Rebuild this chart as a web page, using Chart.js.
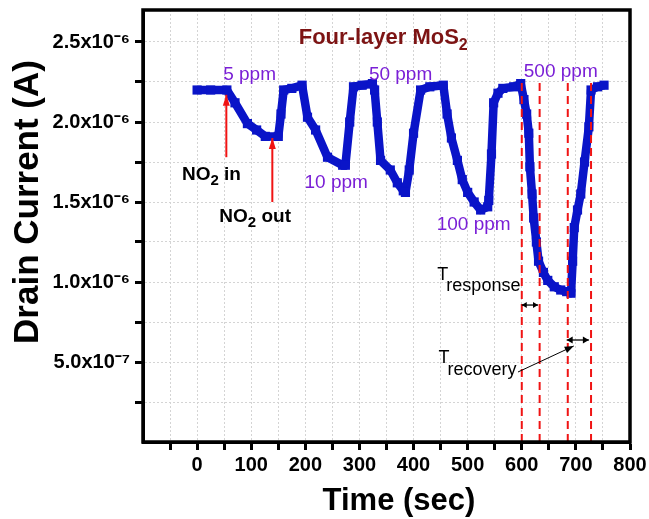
<!DOCTYPE html>
<html lang="en">
<head>
  <meta charset="UTF-8">
  <title>Four-layer MoS2 - NO2 response</title>
  <script src="https://cdn.jsdelivr.net/npm/chart.js"></script>
  <style>
    html, body { margin: 0; padding: 0; background: #fff; }
  </style>
</head>
<body>
  <canvas id="chartMoS2" width="649" height="519"></canvas>

  <script>
    // drain current (time in s, current in µA)
    const timeSec = [0, 25, 55, 70, 93, 110, 126, 150, 155, 160, 175, 194, 204, 219, 241, 269, 274, 282, 289, 305,
      324, 328, 333, 339, 357, 370, 381, 385, 392, 400, 413, 430, 455, 462, 470, 481, 490, 500, 512, 524,
      537, 539, 544, 548, 556, 565, 585, 598, 604, 609, 613, 615, 619, 622, 627, 631, 640, 648, 660, 672,
      683, 691, 694, 697, 703, 709, 716, 724, 728, 740, 752];
    const currentMicroA = [2.20, 2.20, 2.20, 2.12, 1.99, 1.95, 1.91, 1.91, 2.05, 2.20, 2.21, 2.23, 2.03, 1.95, 1.78, 1.73, 1.73, 2.00, 2.22, 2.23,
      2.24, 2.20, 2.00, 1.76, 1.70, 1.62, 1.57, 1.56, 1.70, 1.93, 2.20, 2.22, 2.23, 2.05, 1.90, 1.76, 1.64, 1.56, 1.50, 1.45,
      1.47, 1.51, 1.80, 2.12, 2.18, 2.21, 2.22, 2.24, 2.14, 2.05, 1.93, 1.72, 1.55, 1.40, 1.25, 1.13, 1.06, 1.01, 0.97, 0.95,
      0.94, 0.93, 1.13, 1.34, 1.45, 1.55, 1.75, 1.97, 2.20, 2.22, 2.23];

    const xTickValues = [-100, -50, 0, 50, 100, 150, 200, 250, 300, 350, 400, 450, 500, 550, 600, 650, 700, 750, 800];
    const xTickLabels = ['', '', '0', '', '100', '', '200', '', '300', '', '400', '', '500', '', '600', '', '700', '', '800'];
    const yTickValues = [0, 0.25e-6, 0.5e-6, 0.75e-6, 1.0e-6, 1.25e-6, 1.5e-6, 1.75e-6, 2.0e-6, 2.25e-6, 2.5e-6];
    const yTickLabels = ['', '', '5.0x10⁻⁷', '', '1.0x10⁻⁶', '', '1.5x10⁻⁶', '', '2.0x10⁻⁶', '', '2.5x10⁻⁶'];

    // response / recovery markers (s)
    const markerTimes = [600, 633, 685, 728];
    const markerTopA = 2.27e-6;

    const concLabels = ['5 ppm', '10 ppm', '50 ppm', '100 ppm', '500 ppm'];

    const FONT = "'Liberation Sans', Arial, sans-serif";
    const BLUE = '#0a14c8';
    const PURPLE = '#7a1fd6';
    const RED = '#f01414';

    // where the concentration labels sit (data coords: s, A)
    const concPos = [[97, 2.26e-6], [257, 1.59e-6], [376, 2.26e-6], [511, 1.325e-6], [672, 2.28e-6]];

    function drawRuns(ctx, x, y, runs, align) {
      let w = 0;
      runs.forEach(r => { ctx.font = r.font; r.w = ctx.measureText(r.text).width; w += r.w; });
      let cx = align === 'center' ? x - w / 2 : x;
      ctx.textAlign = 'left';
      ctx.textBaseline = 'alphabetic';
      runs.forEach(r => {
        ctx.font = r.font;
        ctx.fillStyle = r.color;
        ctx.fillText(r.text, cx, y + (r.dy || 0));
        cx += r.w + (r.gap || 0);
      });
    }

    function arrowHead(ctx, x1, y1, x2, y2, len, half) {
      const a = Math.atan2(y2 - y1, x2 - x1);
      const c = Math.cos(a), s = Math.sin(a);
      ctx.beginPath();
      ctx.moveTo(x2, y2);
      ctx.lineTo(x2 - len * c + half * s, y2 - len * s - half * c);
      ctx.lineTo(x2 - len * c - half * s, y2 - len * s + half * c);
      ctx.closePath();
      ctx.fill();
    }

    function arrow(ctx, x1, y1, x2, y2, color, width, len, half, both) {
      ctx.strokeStyle = color;
      ctx.fillStyle = color;
      ctx.lineWidth = width;
      ctx.beginPath();
      ctx.moveTo(x1, y1);
      ctx.lineTo(x2, y2);
      ctx.stroke();
      arrowHead(ctx, x1, y1, x2, y2, len, half);
      if (both) arrowHead(ctx, x2, y2, x1, y1, len, half);
    }

    const annotations = {
      id: 'annotations',
      afterDatasetsDraw(chart) {
        const { ctx, chartArea, scales: { x, y } } = chart;
        const px = t => x.getPixelForValue(t);
        const py = v => y.getPixelForValue(v);
        ctx.save();

        // title inside the plot
        drawRuns(ctx, px(344), py(2.49e-6), [
          { text: 'Four-layer MoS', font: `bold 22px ${FONT}`, color: '#7d1414' },
          { text: '2', font: `bold 16px ${FONT}`, color: '#7d1414', dy: 6 }
        ], 'center');

        // concentrations
        concLabels.forEach((txt, i) => {
          drawRuns(ctx, px(concPos[i][0]), py(concPos[i][1]),
            [{ text: txt, font: `19px ${FONT}`, color: PURPLE }], 'center');
        });

        // NO2 in / out
        drawRuns(ctx, px(-28), py(1.64e-6), [
          { text: 'NO', font: `bold 19px ${FONT}`, color: '#000' },
          { text: '2', font: `bold 15px ${FONT}`, color: '#000', dy: 5 },
          { text: ' in', font: `bold 19px ${FONT}`, color: '#000' }
        ], 'left');
        drawRuns(ctx, px(41), py(1.375e-6), [
          { text: 'NO', font: `bold 19px ${FONT}`, color: '#000' },
          { text: '2', font: `bold 15px ${FONT}`, color: '#000', dy: 5 },
          { text: ' out', font: `bold 19px ${FONT}`, color: '#000' }
        ], 'left');
        arrow(ctx, px(54), py(1.78e-6), px(54), py(2.17e-6), RED, 2, 11, 3.5, false);
        arrow(ctx, px(139), py(1.50e-6), px(139), py(1.90e-6), RED, 2, 11, 3.5, false);

        // T response / recovery
        drawRuns(ctx, px(444), py(1.01e-6), [
          { text: 'T', font: `18px ${FONT}`, color: '#000', gap: -2 },
          { text: 'response', font: `18px ${FONT}`, color: '#000', dy: 11 }
        ], 'left');
        drawRuns(ctx, px(446), py(0.494e-6), [
          { text: 'T', font: `18px ${FONT}`, color: '#000', gap: -2 },
          { text: 'recovery', font: `18px ${FONT}`, color: '#000', dy: 12 }
        ], 'left');
        arrow(ctx, px(600), py(0.856e-6), px(630), py(0.856e-6), '#000', 1.3, 5, 3, true);
        arrow(ctx, px(683), py(0.6375e-6), px(724), py(0.6375e-6), '#000', 1.3, 6, 3.5, true);
        arrow(ctx, px(593), py(0.4375e-6), px(696), py(0.60e-6), '#000', 1, 9, 3.5, false);

        // axis titles
        ctx.fillStyle = '#000';
        ctx.font = `bold 31px ${FONT}`;
        ctx.textAlign = 'center';
        ctx.textBaseline = 'alphabetic';
        ctx.fillText('Time (sec)', 399, 510);
        ctx.save();
        ctx.translate(38, 202);
        ctx.rotate(-Math.PI / 2);
        ctx.font = `bold 35px ${FONT}`;
        ctx.fillText('Drain Current (A)', 0, 0);
        ctx.restore();

        // frame
        ctx.strokeStyle = '#000';
        ctx.lineWidth = 3.5;
        ctx.strokeRect(chartArea.left, chartArea.top, chartArea.right - chartArea.left, chartArea.bottom - chartArea.top);
        ctx.restore();
      }
    };

    const markerSets = markerTimes.map(t => ({
      data: [{ x: t, y: 0 }, { x: t, y: markerTopA }],
      borderColor: RED,
      borderWidth: 2,
      borderDash: [8, 5],
      pointRadius: 0,
      order: 0
    }));

    const ctx = document.getElementById('chartMoS2').getContext('2d');
    new Chart(ctx, {
      type: 'line',
      data: {
        datasets: [{
          data: timeSec.map((t, i) => ({ x: t, y: currentMicroA[i] * 1e-6 })),
          borderColor: BLUE,
          backgroundColor: BLUE,
          borderWidth: 8.5,
          borderJoinStyle: 'round',
          tension: 0,
          pointStyle: 'rect',
          pointRadius: 6.5,
          pointBorderWidth: 0,
          order: 1
        }, ...markerSets]
      },
      options: {
        responsive: false,
        animation: false,
        layout: { padding: { left: 0, top: 10, right: 19, bottom: 0 } },
        plugins: { legend: { display: false }, tooltip: { enabled: false } },
        scales: {
          x: {
            type: 'linear',
            min: -100,
            max: 800,
            afterBuildTicks: s => { s.ticks = xTickValues.map(v => ({ value: v })); },
            afterFit: s => { s.height = 77; s.paddingLeft = 0; s.paddingRight = 0; },
            ticks: {
              callback: (v, i) => xTickLabels[i],
              color: '#000',
              font: { family: FONT, size: 20, weight: 'bold' },
              padding: 3,
              maxRotation: 0,
              autoSkip: false
            },
            grid: {
              color: '#d4d4d4',
              lineWidth: 1,
              tickLength: 8,
              tickWidth: 3,
              tickColor: c => (c.tick && c.tick.value === -100) ? 'rgba(0,0,0,0)' : '#000'
            },
            border: { display: true, color: '#000', width: 3, dash: [2, 2] }
          },
          y: {
            type: 'linear',
            min: 0,
            max: 2.7e-6,
            afterBuildTicks: s => { s.ticks = yTickValues.map(v => ({ value: v })); },
            afterFit: s => { s.width = 143; s.paddingTop = 0; s.paddingBottom = 0; },
            ticks: {
              callback: (v, i) => yTickLabels[i],
              color: '#000',
              font: { family: FONT, size: 20, weight: 'bold' },
              padding: 5,
              autoSkip: false
            },
            grid: {
              color: '#d4d4d4',
              lineWidth: 1,
              tickLength: 8,
              tickWidth: 3,
              tickColor: c => (c.tick && c.tick.value === 0) ? 'rgba(0,0,0,0)' : '#000'
            },
            border: { display: true, color: '#000', width: 3, dash: [2, 2] }
          }
        }
      },
      plugins: [annotations]
    });
  </script>
</body>
</html>
